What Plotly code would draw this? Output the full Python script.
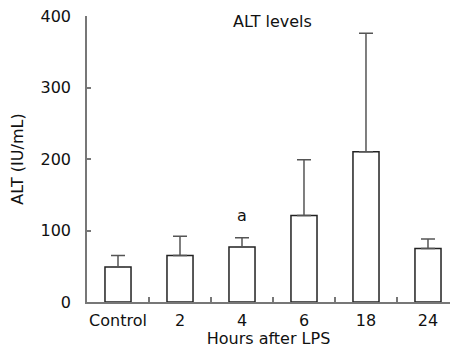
import plotly.graph_objects as go

categories = ["Control", "2", "4", "6", "18", "24"]
alt_mean = [49, 65, 77, 121, 210, 75]
alt_sd = [16, 27, 13, 78, 166, 13]
sig_labels = ["", "", "a", "", "", ""]

FONT = "DejaVu Sans"

fig = go.Figure()
fig.add_trace(go.Bar(
    x=categories, y=alt_mean,
    width=0.42,
    marker=dict(color="white", line=dict(color="#222222", width=1.5)),
    error_y=dict(type="data", array=alt_sd, symmetric=False, arrayminus=[0]*6,
                 color="#555555", thickness=1.5, width=7, visible=True),
))

for i, (m, s, lab) in enumerate(zip(alt_mean, alt_sd, sig_labels)):
    if lab:
        fig.add_annotation(x=i, y=m + s, text=lab, showarrow=False,
                           yshift=22, font=dict(family=FONT, size=16, color="#111"))

fig.add_annotation(x=0.512, xref="paper", y=1.0, yref="paper", yanchor="middle", yshift=-5.5,
                   text="ALT levels", showarrow=False,
                   font=dict(family=FONT, size=16, color="#111"))

fig.update_layout(
    width=442, height=340,
    margin=dict(l=79, r=0, t=8, b=46, autoexpand=False),
    paper_bgcolor="white", plot_bgcolor="white",
    showlegend=False,
    font=dict(family=FONT, size=16, color="#111"),
)
fig.update_xaxes(
    type="category", range=[-0.5, 5.355],
    showline=True, linecolor="#777777", linewidth=1.5,
    ticks="inside", tickson="boundaries", ticklen=5, tickcolor="#777777", tickwidth=1.5,
    showgrid=False, zeroline=False, tickangle=0, automargin=False,
    ticklabelstandoff=3, ticklabeloverflow="allow",
    title=dict(text="Hours after LPS", standoff=10, font=dict(family=FONT, size=16)),
    tickfont=dict(family=FONT, size=16),
)
fig.update_yaxes(
    range=[0, 400], tickvals=[0, 100, 200, 300, 400],
    showline=True, linecolor="#777777", linewidth=1.5,
    ticks="inside", ticklen=4, tickcolor="#777777", tickwidth=1.5,
    showgrid=False, zeroline=False, automargin=False,
    ticklabelstandoff=11, ticklabeloverflow="allow",
    title=dict(text="ALT (IU/mL)", standoff=14, font=dict(family=FONT, size=16)),
    tickfont=dict(family=FONT, size=16),
)

fig.write_html("out.html")
